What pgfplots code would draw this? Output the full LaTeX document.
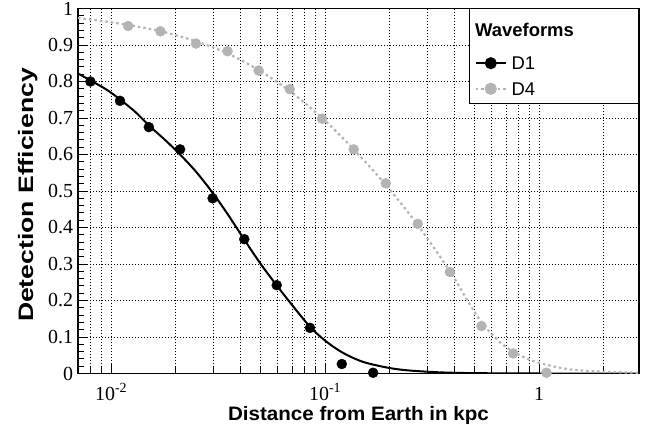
\documentclass[border=0pt]{standalone}
\usepackage{fontspec}
\setmainfont{Liberation Serif}
\newfontfamily\helv{Liberation Sans}
\usepackage{pgfplots}
\pgfplotsset{compat=1.18}
\definecolor{dfour}{RGB}{180,180,180}

\begin{document}
\begin{tikzpicture}
\path[use as bounding box] (0,0) rectangle (667bp,425bp);
\begin{axis}[
  at={(78bp,51.5bp)}, anchor=south west,
  scale only axis, width=561bp, height=365bp,
  xmode=log, xmin=0.007, xmax=2.93, ymin=0, ymax=1,
  axis line style={line width=1.1bp},
  xtick={0.01,0.1,1},
  xticklabels={10\textsuperscript{-2},10\textsuperscript{-1},1},
  minor xtick={0.008,0.009,0.02,0.03,0.04,0.05,0.06,0.07,0.08,0.09,0.2,0.3,0.4,0.5,0.6,0.7,0.8,0.9,2},
  ytick={0,0.1,0.2,0.3,0.4,0.5,0.6,0.7,0.8,0.9,1},
  yticklabels={0,0.1,0.2,0.3,0.4,0.5,0.6,0.7,0.8,0.9,1},
  minor y tick num=4,
  xtick pos=bottom, ytick pos=left, tick align=inside,
  major tick length=9bp, minor tick length=6bp,
  tick style={black, line width=0.8bp},
  xmajorgrids, xminorgrids, ymajorgrids,
  major grid style={black, line width=0.6bp, dash pattern=on 1bp off 2bp},
  minor grid style={black, line width=0.6bp, dash pattern=on 1bp off 2bp},
  ticklabel style={font=\fontsize{20}{20}\selectfont},
  xticklabel style={anchor=base, yshift=-26.5bp, inner sep=0pt},
  yticklabel style={anchor=east, xshift=-4.7bp, inner sep=0pt},
  xlabel={\scalebox{1.06}[1]{Distance from Earth in kpc}},
  ylabel={\scalebox{1.27}[1]{Detection Efficiency}},
  label style={font=\helv\bfseries},
  xlabel style={font=\helv\bfseries\fontsize{19.5}{19.5}\selectfont, at={(axis description cs:0.5,-0.1295)}, anchor=base, inner sep=0pt},
  ylabel style={font=\helv\bfseries\fontsize{21}{21}\selectfont, at={(axis description cs:-0.0802,0.489)}, anchor=base, inner sep=0pt},
  legend style={at={(rel axis cs:1,1)}, anchor=north east, draw=black, line width=0.8bp,
    fill=white, font=\helv\fontsize{18.5}{18.5}\selectfont,
    inner xsep=5bp, inner ysep=1.5bp, row sep=0pt, column sep=4.7bp,
    nodes={inner sep=0pt, text height=19.4bp, text depth=6.2bp}},
  legend cell align=left,
  legend image code/.code={\draw[mark repeat=2,mark phase=2,#1] plot coordinates {(0bp,0bp) (15bp,0bp) (30bp,0bp)};},
]
\addlegendimage{legend image code/.code={\node[overlay, anchor=west, inner sep=0pt, text height=, text depth=, font=\helv\bfseries\fontsize{18.5}{18.5}\selectfont] at (-1bp,0bp) {Waveforms};}}
\addlegendentry[text height=26.6bp, text depth=13.4bp]{\phantom{W}}
\addlegendimage{black, line width=2bp, mark=*, mark size=5bp, mark options={solid}}
\addlegendentry{\makebox[122bp][l]{D1}}
\addlegendimage{dfour, line width=2.2bp, dash pattern=on 2.5bp off 3bp, mark=*, mark size=5bp, mark options={solid}}
\addlegendentry{D4}

% D1 fitted curve
\addplot[forget plot, black, line width=2bp, smooth] coordinates {
(0.007,0.822) (0.008,0.803) (0.0095,0.778) (0.011,0.751) (0.013,0.716)
(0.015,0.680) (0.018,0.638) (0.021,0.600) (0.025,0.552) (0.030,0.493)
(0.035,0.437) (0.042,0.366) (0.050,0.300) (0.060,0.238) (0.070,0.188)
(0.085,0.128) (0.10,0.090) (0.12,0.058) (0.15,0.032) (0.20,0.015)
(0.25,0.008) (0.35,0.003) (0.5,0.001) (1,0.0) (2.93,0.0)
};
% D4 fitted curve
\addplot[forget plot, dfour, line width=2.2bp, dash pattern=on 2.5bp off 3bp, smooth] coordinates {
(0.007,0.974) (0.009,0.966) (0.012,0.955) (0.017,0.938) (0.025,0.910)
(0.035,0.877) (0.049,0.831) (0.068,0.775) (0.097,0.700) (0.136,0.614)
(0.192,0.517) (0.271,0.407) (0.383,0.280) (0.45,0.212) (0.538,0.140)
(0.65,0.088) (0.756,0.060) (0.9,0.038) (1.08,0.024) (1.4,0.011)
(2.0,0.005) (2.93,0.002)
};
% D1 points
\addplot[forget plot, only marks, black, mark=*, mark size=5bp] coordinates {
(0.0080,0.800) (0.0110,0.747) (0.0150,0.675) (0.0210,0.614) (0.0298,0.480)
(0.0419,0.368) (0.0594,0.242) (0.0850,0.125) (0.1197,0.026) (0.1676,0.002)
};
% D4 points
\addplot[forget plot, only marks, dfour, mark=*, mark size=5bp] coordinates {
(0.0120,0.952) (0.0170,0.9375) (0.0249,0.904) (0.0350,0.883) (0.0489,0.830)
(0.0684,0.779) (0.0968,0.698) (0.136,0.614) (0.192,0.521) (0.271,0.410)
(0.383,0.278) (0.538,0.130) (0.756,0.055) (1.083,0.002)
};
\end{axis}
\end{tikzpicture}
\end{document}
